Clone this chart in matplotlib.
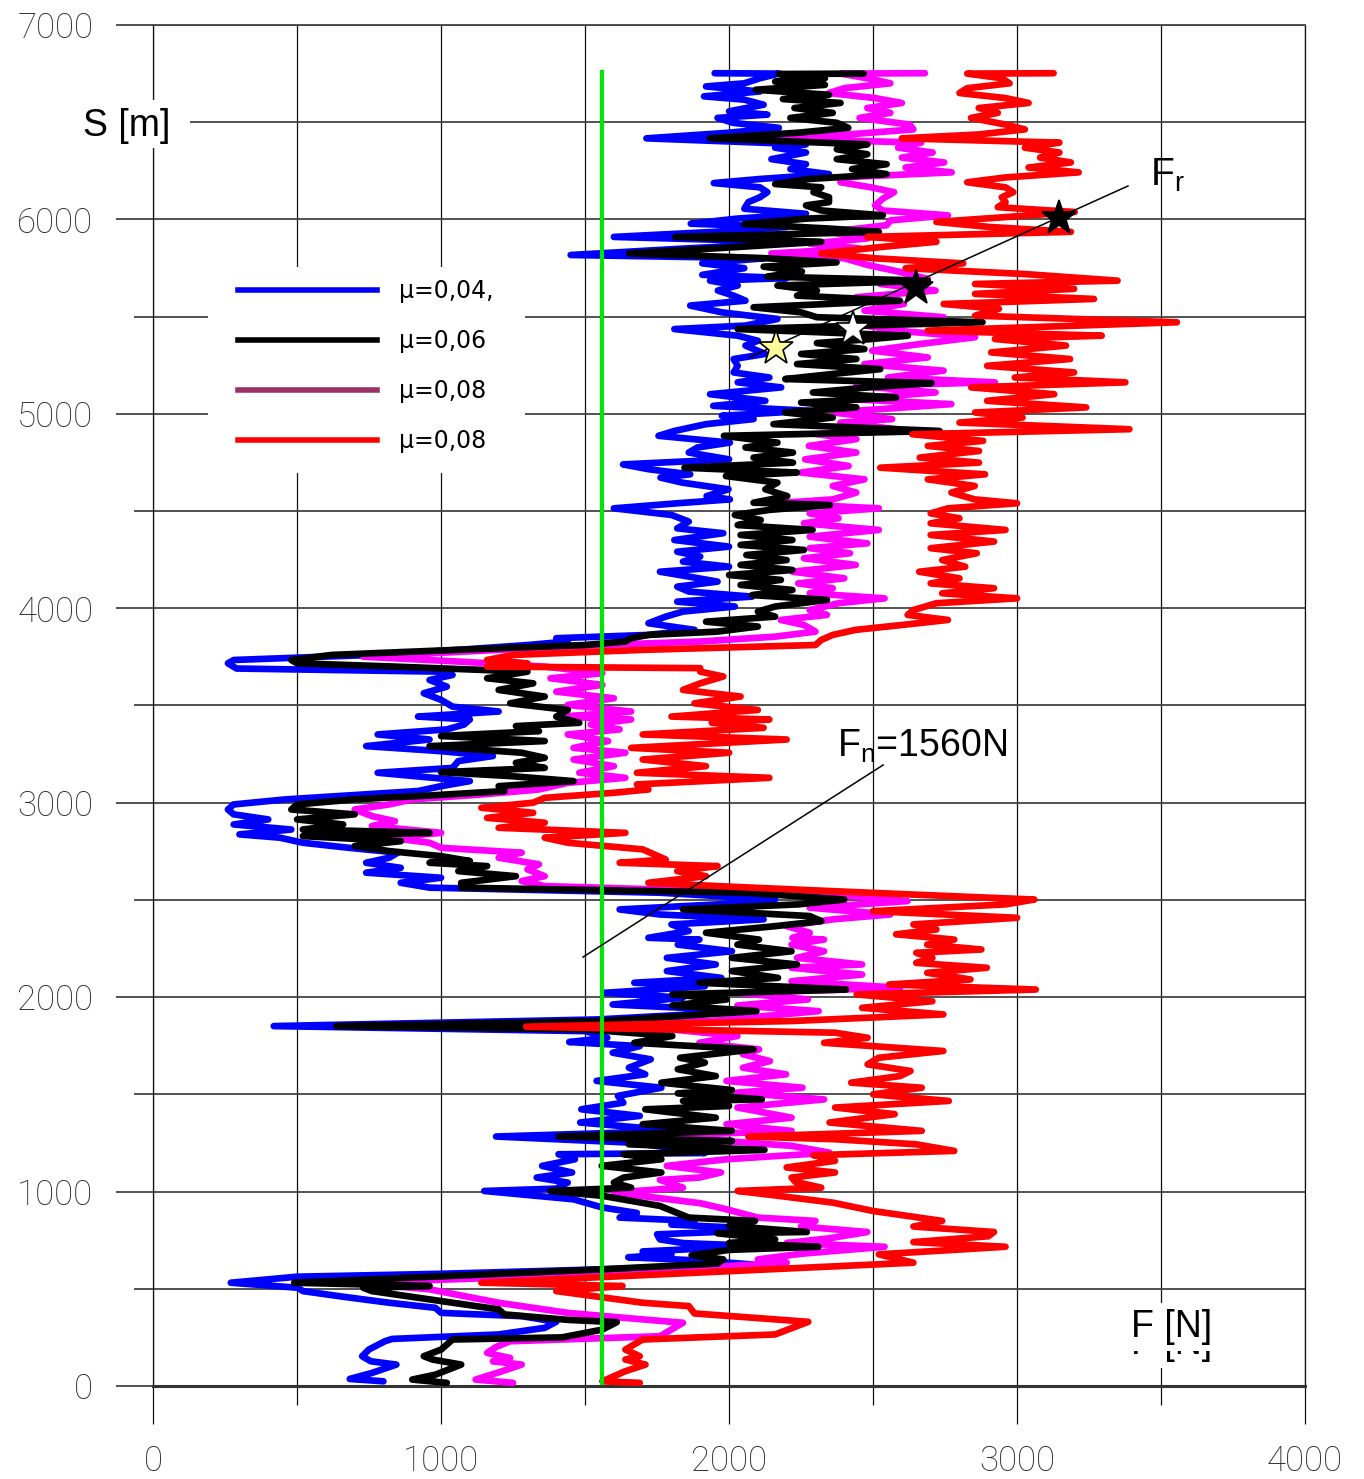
import numpy as np
import matplotlib.pyplot as plt
from matplotlib.lines import Line2D
from matplotlib.patches import Rectangle

plt.rcParams['font.family'] = ['Liberation Sans', 'DejaVu Sans']
plt.rcParams['mathtext.default'] = 'regular'

# (S [m], F [N]) pairs, bottom to top
blue = [(24,800),(36,683),(67,760),(110,845),(127,756),(153,726),(188,750),(230,805),(242,830),(265,1200),
        (299,1360),(330,1400),(359,1280),(376,1000),(402,980),(428,820),(459,660),(488,520),(505,504),(531,270),
        (562,500),(577,1000),(600,1560),(625,2080),(645,1900),(662,1650),(677,1800),(692,1700),(720,2100),(735,1840),
        (754,1760),(780,1750),(792,1960),(812,2060),(830,1800),(849,1880),(866,1620),(890,1680),(918,1560),(960,1460),
        (1003,1150),(1015,1400),(1046,1440),(1072,1332),(1098,1455),(1132,1351),(1166,1465),(1192,1408),(1198,1916),
        (1218,1840),(1252,1652),(1283,1191),(1312,1822),(1355,1483),(1389,1690),(1423,1487),(1457,1633),(1492,1614),
        (1534,1765),(1569,1540),(1603,1709),(1637,1652),(1680,1728),(1714,1596),(1748,1690),(1769,1445),(1791,1577),
        (1825,1502),(1851,419),(1885,1540),(1928,2080),(1962,1596),(1997,1840),(2022,1568),(2056,1916),(2074,1671),
        (2099,1973),(2134,1784),(2168,1954),(2202,1784),(2236,2010),(2270,1822),(2296,1897),(2305,1720),(2340,1860),
        (2374,1800),(2400,2120),(2425,1760),(2451,1620),(2477,1960),(2502,2160),(2537,1760),(2563,960),(2588,860),
        (2614,1000),(2640,740),(2665,860),(2691,740),(2717,820),(2743,850),(2768,680),(2794,520),(2820,440),
        (2837,300),(2862,480),(2888,280),(2914,400),(2940,280),(2965,260),(2991,280),(3017,460),(3034,640),
        (3060,920),(3085,1000),(3111,1100),(3154,780),(3179,1040),(3214,1060),(3240,1180),(3265,1000),(3291,740),
        (3325,960),(3351,780),(3377,1020),(3402,1080),(3428,1100),(3443,920),(3469,1200),(3494,1040),(3529,1000),
        (3563,940),(3597,1020),(3631,960),(3657,1040),(3674,1000),(3690,290),(3717,260),(3734,280),(3760,760),
        (3786,1060),(3811,1300),(3829,1440),(3846,1400),(3863,1720),(3889,1880),(3923,1720),(3957,1780),(3983,1840),
        (4009,2020),(4034,1820),(4060,2080),(4086,1860),(4111,1820),(4137,1960),(4163,1860),(4188,1760),(4214,2000),
        (4240,1840),(4266,1900),(4291,1820),(4317,2000),(4351,1810),(4386,1980),(4411,1820),(4446,1860),(4480,1800),
        (4514,1600),(4540,1820),(4560,2003),(4577,1922),(4612,1998),(4646,1838),(4672,1762),(4689,1865),(4715,1721),
        (4740,1632),(4766,2000),(4801,1860),(4827,1890),(4852,2003),(4887,1755),(4912,1810),(4947,1920),(4973,2085),
        (4990,1975),(5016,2277),(5041,1945),(5067,2126),(5101,1934),(5136,2181),(5162,2030),(5187,2140),(5213,2016),
        (5247,2030),(5282,2016),(5308,2126),(5351,2057),(5376,2100),(5402,2030),(5436,1810),(5454,2057),(5488,2168),
        (5522,1975),(5557,1865),(5582,2057),(5608,2016),(5634,1961),(5660,2030),(5685,1934),(5698,2200),(5715,1907),
        (5749,2053),(5774,1907),(5800,2120),(5817,1450),(5851,1853),(5876,2187),(5893,2013),(5910,1600),(5936,1947),
        (5961,2200),(5978,1867),(6004,2027),(6029,2267),(6055,2053),(6089,2067),(6114,2107),(6140,2133),(6165,2107),
        (6187,1947),(6208,2107),(6233,2347),(6259,2213),(6284,2267),(6310,2147),(6344,2267),(6369,2160),(6386,2267),
        (6417,1713),(6446,2000),(6471,2173),(6497,2013),(6522,1960),(6539,2133),(6556,2000),(6590,2120),(6616,2053),
        (6633,1913),(6658,2107),(6684,1920),(6700,2053),(6726,2107),(6750,2173),(6752,1950)]

black = [(16,1020),(33,900),(58,980),(110,1070),(136,970),(153,940),(187,1000),(239,1040),(250,1420),(290,1560),
         (328,1610),(340,1440),(368,1220),(394,1200),(428,1040),(488,760),(505,730),(514,960),(531,490),(565,1020),
         (600,1560),(630,1960),(651,1980),(672,1870),(700,2000),(716,2310),(735,2000),(754,2160),(785,1960),(792,2270),
         (823,2000),(849,2090),(866,1860),(926,1760),(978,1560),(1003,1380),(1020,1660),(1046,1600),(1072,1634),
         (1098,1765),(1132,1558),(1166,1765),(1192,1634),(1214,2123),(1243,1652),(1260,2010),(1283,1408),(1312,2010),
         (1346,1700),(1380,1954),(1423,1709),(1440,2000),(1466,1840),(1474,2114),(1505,1822),(1522,2010),(1560,1765),
         (1594,1954),(1629,1822),(1663,1916),(1688,1830),(1731,2085),(1765,1671),(1800,1803),(1834,1500),(1851,636),
         (1877,1558),(1928,2095),(1957,1803),(1988,1991),(2014,1803),(2039,2406),(2074,1897),(2099,2170),(2134,2010),
         (2168,2236),(2202,2010),(2236,2217),(2270,2029),(2296,2104),(2331,1920),(2365,2160),(2391,2320),(2417,2280),
         (2451,1840),(2477,2240),(2502,2400),(2537,2060),(2563,1070),(2588,1070),(2622,1260),(2648,1060),(2674,1160),
         (2691,960),(2700,1100),(2725,1000),(2751,820),(2777,700),(2802,860),(2828,520),(2845,960),(2862,520),
         (2888,660),(2914,500),(2940,700),(2965,480),(2991,500),(3017,700),(3037,960),(3060,1220),(3085,1200),
         (3111,1460),(3137,1240),(3157,1000),(3179,1360),(3205,1260),(3231,1360),(3257,1280),(3291,960),(3317,1360),
         (3343,1000),(3368,1340),(3394,1260),(3411,1480),(3443,1400),(3477,1440),(3511,1240),(3546,1360),(3580,1200),
         (3614,1320),(3640,1160),(3674,1300),(3700,840),(3717,500),(3734,480),(3760,620),(3786,1050),(3811,1500),
         (3829,1640),(3846,1660),(3863,1720),(3880,1960),(3906,2100),(3931,1920),(3957,2160),(3983,2100),(4009,2160),
         (4043,2340),(4068,2080),(4094,2220),(4120,2040),(4146,2180),(4171,2000),(4197,2220),(4223,2040),(4248,2200),
         (4274,2060),(4300,2260),(4326,2040),(4351,2220),(4377,2040),(4403,2290),(4428,2030),(4454,2110),(4480,2020),
         (4506,2140),(4531,2350),(4543,2085),(4577,2202),(4612,2126),(4646,2168),(4680,1989),(4698,2236),(4723,1845),
         (4749,2222),(4775,2085),(4801,2222),(4827,2057),(4852,2168),(4887,1982),(4912,2731),(4947,2154),(4981,2360),
         (5007,2195),(5033,2442),(5058,2250),(5084,2580),(5110,2291),(5136,2483),(5158,2703),(5179,2195),(5205,2360),
         (5230,2525),(5256,2236),(5282,2442),(5308,2250),(5333,2470),(5364,2305),(5385,2497),(5402,2621),(5436,2030),
         (5471,2880),(5497,2305),(5522,2250),(5548,2085),(5582,2593),(5608,2236),(5634,2305),(5660,2168),(5685,2690),
         (5706,2133),(5732,2253),(5757,2120),(5779,2373),(5800,2133),(5825,1653),(5859,2040),(5885,2320),(5910,1813),
         (5936,2520),(5953,2347),(5976,2053),(6004,2267),(6021,2534),(6046,2320),(6072,2267),(6089,2347),(6114,2347),
         (6140,2293),(6165,2320),(6182,2160),(6208,2280),(6233,2547),(6259,2427),(6284,2547),(6310,2374),(6335,2480),
         (6361,2374),(6386,2480),(6417,1933),(6446,2240),(6471,2414),(6497,2374),(6522,2213),(6548,2360),(6573,2227),
         (6599,2387),(6619,2187),(6641,2347),(6667,2093),(6692,2333),(6709,2160),(6726,2333),(6748,2173),(6750,2467)]

magenta = [(16,1250),(33,1120),(70,1200),(110,1280),(127,1180),(144,1240),(170,1160),(200,1190),(230,1240),
           (256,1760),(325,1840),(350,1640),(376,1440),(428,1200),(497,960),(531,700),(565,1360),(600,1800),
           (634,2200),(651,2100),(680,2250),(716,2540),(735,2200),(760,2350),(792,2480),(820,2250),(849,2300),
           (866,2100),(909,1990),(940,1900),(995,1600),(1020,1840),(1060,1760),(1072,1897),(1098,1972),(1132,1784),
           (1166,1991),(1200,2349),(1235,2217),(1269,1900),(1286,1747),(1312,2217),(1346,1991),(1380,2217),
           (1432,2029),(1474,2330),(1509,2029),(1534,2255),(1569,1991),(1603,2198),(1637,2048),(1671,2142),
           (1706,2048),(1731,2104),(1765,1897),(1800,2029),(1834,1800),(1851,1050),(1877,1935),(1928,2311),
           (1957,2029),(1988,2274),(2022,2029),(2048,2594),(2082,2217),(2116,2462),(2151,2217),(2168,2462),
           (2202,2236),(2236,2330),(2270,2217),(2296,2330),(2305,2220),(2331,2280),(2365,2200),(2400,2360),
           (2425,2560),(2460,2280),(2494,2620),(2528,2360),(2571,1360),(2597,1280),(2622,1360),(2657,1300),
           (2683,1340),(2717,1200),(2743,1280),(2768,1000),(2794,960),(2820,820),(2845,1000),(2880,760),(2905,840),
           (2931,760),(2965,700),(2991,820),(3017,900),(3042,1140),(3068,1340),(3102,1440),(3128,1640),(3154,1480),
           (3188,1600),(3222,1460),(3257,1640),(3282,1460),(3317,1580),(3351,1440),(3377,1620),(3402,1520),
           (3428,1660),(3443,1420),(3469,1660),(3503,1440),(3537,1600),(3571,1400),(3606,1560),(3640,1380),
           (3666,1560),(3700,1360),(3726,1060),(3751,730),(3786,1200),(3811,1560),(3829,1900),(3854,2160),
           (3880,2300),(3914,2260),(3940,2180),(3966,2340),(3991,2280),(4026,2380),(4051,2540),(4077,2280),
           (4103,2360),(4128,2240),(4154,2400),(4188,2220),(4223,2440),(4257,2260),(4283,2420),(4309,2280),
           (4334,2480),(4368,2280),(4403,2520),(4437,2260),(4463,2380),(4488,2280),(4514,2520),(4540,2160),
           (4560,2360),(4595,2442),(4629,2360),(4663,2470),(4698,2250),(4732,2415),(4766,2264),(4801,2442),
           (4835,2277),(4870,2442),(4895,2305),(4921,2580),(4955,2387),(4973,2566),(5007,2360),(5050,2772),
           (5076,2415),(5110,2717),(5144,2442),(5162,2923),(5187,2552),(5222,2745),(5256,2470),(5290,2690),
           (5325,2497),(5359,2662),(5394,2854),(5428,2580),(5462,2442),(5497,2745),(5531,2470),(5565,2607),
           (5600,2442),(5634,2717),(5668,2525),(5694,2690),(5732,2587),(5766,2480),(5800,2400),(5825,2147),
           (5851,2453),(5876,2280),(5902,2480),(5936,2347),(5970,2547),(5995,2560),(6021,2760),(6046,2533),
           (6072,2507),(6106,2533),(6140,2573),(6165,2493),(6191,2387),(6216,2387),(6242,2773),(6267,2613),
           (6293,2747),(6318,2600),(6344,2707),(6369,2587),(6395,2667),(6415,2147),(6437,2413),(6463,2640),
           (6488,2627),(6522,2453),(6548,2560),(6573,2480),(6599,2600),(6624,2507),(6650,2347),(6675,2400),
           (6700,2560),(6726,2480),(6750,2387),(6752,2680)]

red = [(16,1690),(24,1560),(50,1600),(76,1640),(110,1710),(136,1640),(153,1690),(187,1640),(239,1700),(265,2160),
       (330,2275),(373,1880),(411,1860),(428,1700),(488,1400),(514,1630),(531,1140),(574,1760),(634,2640),(677,2520),
       (716,2960),(740,2640),(770,2900),(792,2920),(820,2640),(849,2740),(900,2500),(943,2360),(980,2160),(1003,2030),
       (1020,2320),(1050,2230),(1072,2217),(1098,2368),(1124,2200),(1158,2368),(1187,2293),(1209,2782),(1243,2650),
       (1269,2368),(1283,2067),(1312,2669),(1355,2349),(1398,2575),(1432,2368),(1466,2763),(1500,2500),(1534,2669),
       (1560,2424),(1594,2594),(1620,2630),(1654,2481),(1688,2519),(1723,2744),(1765,2330),(1791,2481),(1817,2368),
       (1848,1295),(1877,2217),(1911,2744),(1945,2462),(1979,2706),(2014,2443),(2039,3065),(2065,2556),(2091,2838),
       (2125,2688),(2151,2895),(2176,2650),(2202,2706),(2228,2650),(2245,2876),(2270,2688),(2296,2782),(2323,2580),
       (2348,2720),(2374,2640),(2408,3000),(2442,2500),(2477,2960),(2502,3060),(2520,2760),(2545,2360),(2571,1960),
       (2588,1720),(2622,1920),(2648,1820),(2674,1960),(2691,1620),(2708,1780),(2734,1740),(2760,1700),(2794,1440),
       (2820,1360),(2845,1640),(2871,1200),(2897,1360),(2922,1160),(2948,1320),(2974,1140),(3000,1320),(3025,1360),
       (3051,1600),(3068,1720),(3094,1680),(3128,2140),(3154,1680),(3188,1920),(3222,1700),(3257,2000),(3282,1660),
       (3325,2200),(3351,1700),(3385,2120),(3411,1940),(3428,2140),(3443,1800),(3477,2100),(3511,1880),(3546,2040),
       (3580,1840),(3614,1900),(3649,1980),(3674,1900),(3692,1900),(3700,1160),(3717,1300),(3734,1160),(3760,1250),
       (3786,1700),(3811,2300),(3837,2320),(3863,2360),(3889,2440),(3914,2600),(3940,2760),(3966,2620),(3991,2640),
       (4026,2720),(4051,3000),(4077,2740),(4103,2920),(4128,2700),(4154,2800),(4188,2660),(4214,2820),(4248,2740),
       (4283,2860),(4309,2700),(4343,2920),(4377,2700),(4403,2960),(4437,2700),(4463,2800),(4488,2700),(4514,2760),
       (4540,3000),(4560,2853),(4595,2772),(4629,2853),(4663,2690),(4689,2889),(4723,2525),(4749,2868),(4775,2662),
       (4809,2868),(4835,2690),(4861,2882),(4895,2636),(4921,3390),(4955,2800),(4981,3019),(5007,2854),(5033,3240),
       (5067,2896),(5101,3129),(5136,2841),(5162,3376),(5187,2992),(5213,3198),(5247,2896),(5282,3184),(5316,2910),
       (5351,3170),(5385,2923),(5402,3294),(5428,2690),(5471,3555),(5505,2854),(5540,2937),(5565,2745),(5591,3267),
       (5617,2854),(5643,3198),(5668,2854),(5685,3349),(5719,3027),(5749,2613),(5774,2813),(5800,2507),(5825,2320),
       (5859,2533),(5885,2720),(5910,2480),(5936,3187),(5961,2907),(5987,2720),(6012,2960),(6038,3200),(6063,2933),
       (6089,2960),(6114,2947),(6140,2987),(6165,2960),(6191,2827),(6216,2960),(6242,3214),(6267,3040),(6293,3187),
       (6318,3080),(6344,3147),(6369,3027),(6395,3147),(6417,2600),(6437,2867),(6463,3027),(6488,2960),(6522,2840),
       (6548,2933),(6573,2867),(6599,3040),(6624,2960),(6650,2800),(6675,2827),(6700,2974),(6726,2947),(6750,2827),
       (6752,3127)]

series = [blue, magenta, black, red]
series_colors = ['#0000ff', '#ff00ff', '#000000', '#ff0000']

legend_labels = ['\u03bc=0,04,', '\u03bc=0,06', '\u03bc=0,08', '\u03bc=0,08']
legend_colors = ['#0000ff', '#000000', '#993366', '#ff0000']

fn_value = 1560
fn_range = [15, 6760]

star_f = [3146, 2649, 2431, 2163]
star_s = [6009, 5647, 5436, 5339]
star_colors = ['#000000', '#000000', '#ffffff', '#ffff99']

fig = plt.figure(figsize=(13.64, 14.79), dpi=100)
ax = fig.add_axes([0.1122, 0.0629, 0.8446, 0.9202])
ax.set_xlim(0, 4000)
ax.set_ylim(0, 7000)
ax.set_xticks(np.arange(0, 4001, 1000))
ax.set_xticks(np.arange(500, 4000, 1000), minor=True)
ax.set_yticks(np.arange(0, 7001, 1000))
ax.set_yticks(np.arange(500, 7000, 1000), minor=True)

ax.set_axisbelow(True)
ax.grid(which='both', axis='x', color='#111111', lw=0.9)
ax.grid(which='both', axis='y', color='#444444', lw=1.3)
ax.tick_params(axis='x', which='major', direction='out', length=27, width=0.9, color='#111111', pad=15)
ax.tick_params(axis='x', which='minor', direction='out', length=14, width=0.9, color='#111111')
ax.tick_params(axis='y', which='major', direction='out', length=27, width=1.3, color='#444444', pad=16)
ax.tick_params(axis='y', which='minor', direction='out', length=14, width=1.3, color='#444444')
ax.tick_params(which='major', labelsize=25, labelcolor='#2a2a2a')
for side in ['left', 'right']:
    ax.spines[side].set_color('#111111')
    ax.spines[side].set_linewidth(0.9)
ax.spines['top'].set_color('#444444')
ax.spines['top'].set_linewidth(1.3)
ax.spines['bottom'].set_color('#333333')
ax.spines['bottom'].set_linewidth(2.2)
for lbl in ax.get_xticklabels() + ax.get_yticklabels():
    lbl.set_fontfamily(['Roboto', 'DejaVu Sans'])
    lbl.set_fontweight('light')

# curves
for i, (pts, c) in enumerate(zip(series, series_colors)):
    arr = np.array(pts)
    ax.plot(arr[:, 1], arr[:, 0], color=c, lw=4.8, solid_joinstyle='round',
            solid_capstyle='round', zorder=2 + i)

ax.plot([fn_value, fn_value], fn_range, color='#00e600', lw=3, zorder=7)

# annotation lines
ax.plot([3385, 2073], [6172, 5292], color='k', lw=1.1, zorder=8)
ax.plot([2535, 1493], [3194, 2206], color='k', lw=1.1, zorder=8)

for f, s, c in zip(star_f, star_s, star_colors):
    ax.plot(f, s, marker='*', ms=26, mfc=c, mec='k', mew=1.2, zorder=9)

ax.text(0.8655, 0.8817, 'F$_{r}$', transform=ax.transAxes, fontsize=28, ha='left', va='baseline')
ax.text(0.5938, 0.4622, 'F$_{n}$=1560N', transform=ax.transAxes, fontsize=27, ha='left', va='baseline')

# S [m] label with white patch
ax.add_patch(Rectangle((-0.072, 0.9096), 0.1042, 0.0353, transform=ax.transAxes,
                       facecolor='white', edgecolor='none', clip_on=False, zorder=3))
ax.text(-0.0226, 0.9258, 'S [m]', transform=ax.transAxes, fontsize=27, ha='center', va='center',
        zorder=4, clip_on=False)

# F [N] label (a second copy sits partly hidden under the first one)
ax.text(0.8845, 0.0235, 'F [N]', transform=ax.transAxes, fontsize=27, ha='center', va='baseline',
        zorder=4, bbox=dict(facecolor='white', edgecolor='none', pad=4))
ax.text(0.8845, 0.0360, 'F [N]', transform=ax.transAxes, fontsize=27, ha='center', va='baseline',
        zorder=5, bbox=dict(facecolor='white', edgecolor='none', pad=4))

# legend
ax.add_patch(Rectangle((0.0477, 0.6708), 0.2752, 0.1514, transform=ax.transAxes,
                       facecolor='white', edgecolor='none', zorder=1))
handles = [Line2D([], [], color=c, lw=4) for c in legend_colors]
ax.legend(handles, legend_labels, loc='upper left', bbox_to_anchor=(0.0677, 0.8185),
          frameon=False, prop={'family': 'DejaVu Sans', 'size': 17}, handlelength=5.9,
          handletextpad=0.9, labelspacing=1.1, borderpad=0.3, borderaxespad=0)

fig.savefig('out.png', dpi=100)
